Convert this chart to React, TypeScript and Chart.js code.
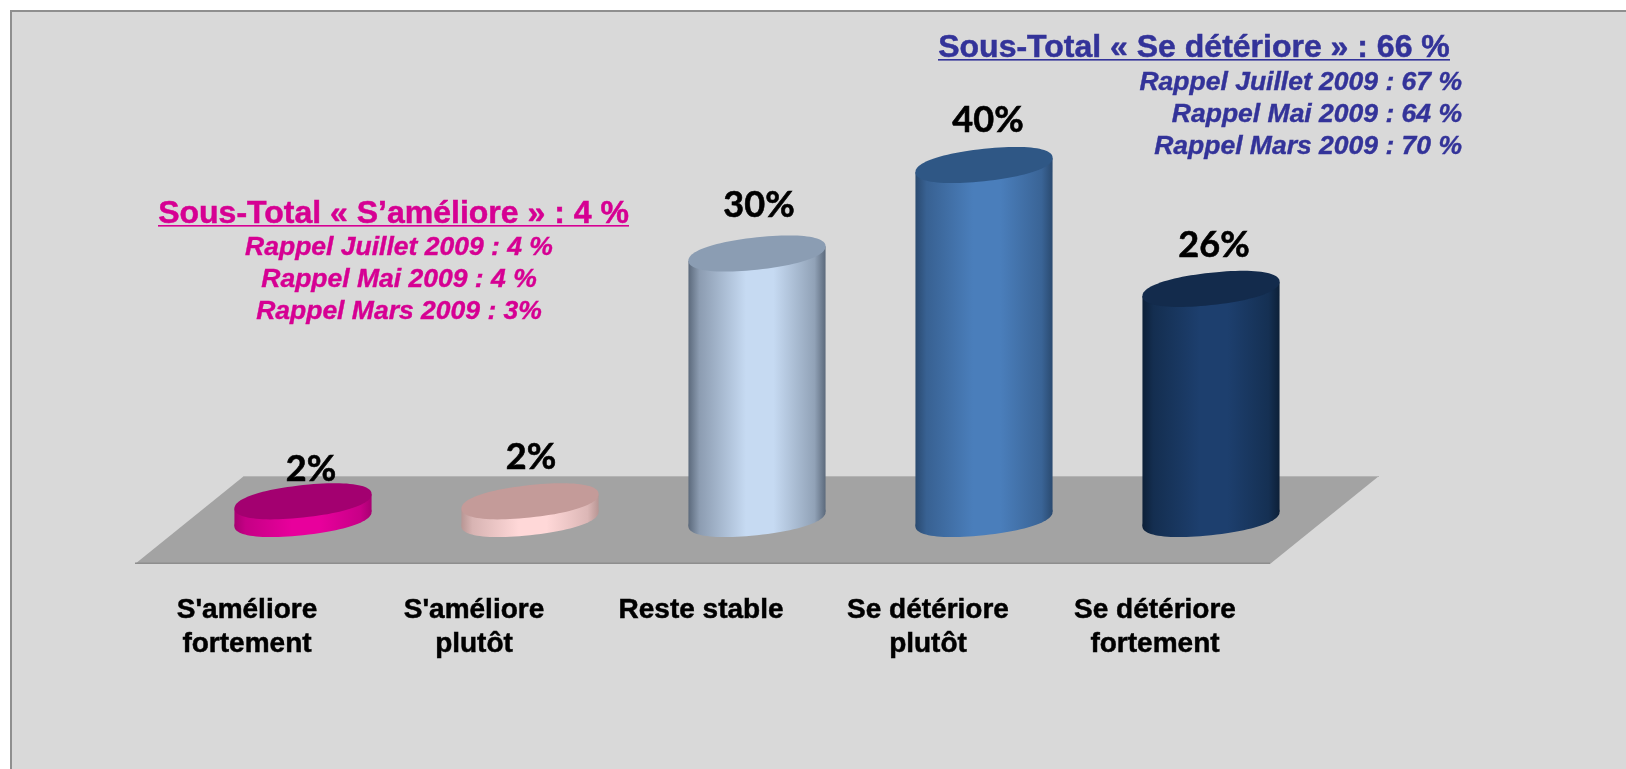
import React, { useEffect, useRef } from "react";
import { Chart, registerables } from "chart.js";

Chart.register(...registerables);

const categories = [
  ["S'améliore", "fortement"],
  ["S'améliore", "plutôt"],
  ["Reste stable"],
  ["Se détériore", "plutôt"],
  ["Se détériore", "fortement"],
];
const values = [2, 2, 30, 40, 26];
const lightColors = ["#e8009c", "#ffd8d8", "#c6daf2", "#4a7ebb", "#1d3f6e"];
const edgeColors = ["#a80072", "#b89694", "#5c6a7c", "#2a4a70", "#0d2038"];
const lidColors = ["#a30070", "#c49b99", "#8b9db3", "#2f5785", "#132b4c"];

const improveTitle = "Sous-Total « S’améliore » : 4 %";
const improveLines = ["Rappel Juillet 2009 : 4 %", "Rappel Mai 2009 : 4 %", "Rappel Mars 2009 : 3%"];
const worseTitle = "Sous-Total « Se détériore » : 66 %";
const worseLines = ["Rappel Juillet 2009 : 67 %", "Rappel Mai 2009 : 64 %", "Rappel Mars 2009 : 70 %"];

const PINK = "#d60093";
const BLUE = "#333399";
const labelShiftX = [8, 1, 2, 4, 3];
const labelGapY = [14, 26, 30, 27, 26];

function mix(a: string, b: string, t: number) {
  const p = (h: string, i: number) => parseInt(h.slice(i, i + 2), 16);
  const c = [1, 3, 5].map((i) => Math.round(p(a, i) + (p(b, i) - p(a, i)) * t));
  return `rgb(${c[0]},${c[1]},${c[2]})`;
}

const SHEAR = 0.105;
const ROUNDNESS = 2.2;

// A slightly squared, sheared ellipse: the cross-section of the tilted cylinder.
function lidPath(ctx: any, cx: number, cy: number, hw: number, rb: number) {
  ctx.beginPath();
  const steps = 96;
  for (let s = 0; s < steps; s++) {
    const t = (s / steps) * Math.PI * 2;
    const c = Math.cos(t);
    const n = Math.sin(t);
    const px = Math.sign(c) * Math.pow(Math.abs(c), 2 / ROUNDNESS) * hw;
    const py = Math.sign(n) * Math.pow(Math.abs(n), 2 / ROUNDNESS) * rb;
    const X = cx + px;
    const Y = cy + py - SHEAR * px;
    if (s === 0) ctx.moveTo(X, Y);
    else ctx.lineTo(X, Y);
  }
  ctx.closePath();
}

const scenePlugin = {
  id: "scene",
  beforeDraw(chart: any) {
    const { ctx, chartArea: a, width, height } = chart;
    ctx.save();
    ctx.fillStyle = "#ffffff";
    ctx.fillRect(0, 0, width, height);
    ctx.fillStyle = "#d9d9d9";
    ctx.fillRect(10, 10, width - 10, height - 10);
    ctx.fillStyle = "#8f8f8f";
    ctx.fillRect(10, 10, width - 10, 2);
    ctx.fillRect(10, 10, 2, height - 10);
    const dx = 54.5;
    const top = a.bottom - 43;
    const bot = a.bottom + 45;
    ctx.fillStyle = "#a3a3a3";
    ctx.beginPath();
    ctx.moveTo(a.left - dx, bot);
    ctx.lineTo(a.left + dx, top);
    ctx.lineTo(a.right + dx, top);
    ctx.lineTo(a.right - dx, bot);
    ctx.closePath();
    ctx.fill();
    ctx.fillStyle = "#8e8e8e";
    ctx.fillRect(a.left - dx, bot - 1.5, a.right - a.left, 1.5);
    ctx.fillStyle = "#b4b4b4";
    ctx.fillRect(a.left + dx, top, a.right - a.left, 1);
    ctx.restore();
  },
  beforeDatasetDraw(chart: any, args: any) {
    const { ctx } = chart;
    const meta = args.meta;
    meta.data.forEach((el: any, i: number) => {
      const { x, y, base, width } = el.getProps(["x", "y", "base", "width"], true);
      const hw = width / 2;
      const rb = width * 0.118;
      const drop = SHEAR * hw;
      const g = ctx.createLinearGradient(x - hw, 0, x + hw, 0);
      const light = lightColors[i];
      const edge = edgeColors[i];
      g.addColorStop(0, edge);
      g.addColorStop(0.08, mix(edge, light, 0.45));
      g.addColorStop(0.42, light);
      g.addColorStop(0.62, light);
      g.addColorStop(0.92, mix(edge, light, 0.5));
      g.addColorStop(1, edge);
      ctx.save();
      ctx.fillStyle = g;
      ctx.beginPath();
      ctx.moveTo(x - hw, y + drop);
      ctx.lineTo(x - hw, base + drop);
      ctx.lineTo(x + hw, base - drop);
      ctx.lineTo(x + hw, y - drop);
      ctx.closePath();
      ctx.fill();
      lidPath(ctx, x, base, hw, rb);
      ctx.fill();
      ctx.fillStyle = lidColors[i];
      lidPath(ctx, x, y, hw, rb);
      ctx.fill();
      ctx.restore();
    });
    return false;
  },
  afterDatasetsDraw(chart: any) {
    const { ctx } = chart;
    const meta = chart.getDatasetMeta(0);
    ctx.save();
    ctx.fillStyle = "#000000";
    ctx.strokeStyle = "#000000";
    ctx.lineWidth = 0.6;
    ctx.textAlign = "center";
    ctx.textBaseline = "middle";
    ctx.font = "bold 36px Lato";
    meta.data.forEach((el: any, i: number) => {
      const { x, y, width } = el.getProps(["x", "y", "width"], true);
      const ly = y - width * 0.131 - labelGapY[i];
      ctx.fillText(values[i] + "%", x + labelShiftX[i], ly);
      ctx.strokeText(values[i] + "%", x + labelShiftX[i], ly);
    });
    ctx.restore();

    const title = (text: string, left: number, right: number, base: number, color: string) => {
      ctx.save();
      ctx.font = "bold 32px 'Liberation Sans'";
      ctx.fillStyle = color;
      ctx.strokeStyle = color;
      ctx.lineWidth = 0.5;
      ctx.textAlign = "center";
      ctx.textBaseline = "alphabetic";
      ctx.fillText(text, (left + right) / 2, base);
      ctx.strokeText(text, (left + right) / 2, base);
      ctx.fillRect(left, base + 2, right - left, 1.6);
      ctx.restore();
    };
    const subs = (lines: string[], x: number, align: string, base: number, color: string) => {
      ctx.save();
      ctx.font = "italic bold 26.5px 'Liberation Sans'";
      ctx.fillStyle = color;
      ctx.strokeStyle = color;
      ctx.lineWidth = 0.4;
      ctx.textAlign = align;
      ctx.textBaseline = "alphabetic";
      lines.forEach((t, i) => {
        ctx.fillText(t, x, base + i * 32);
        ctx.strokeText(t, x, base + i * 32);
      });
      ctx.restore();
    };
    title(improveTitle, 158, 629, 223, PINK);
    subs(improveLines, 399, "center", 255, PINK);
    title(worseTitle, 938, 1450, 57, BLUE);
    subs(worseLines, 1462, "right", 90, BLUE);
  },
};

export default function App() {
  const ref = useRef<HTMLCanvasElement>(null);
  useEffect(() => {
    const chart = new Chart(ref.current as HTMLCanvasElement, {
      type: "bar",
      data: {
        labels: categories,
        datasets: [
          {
            data: values,
            backgroundColor: lightColors,
            borderWidth: 0,
            categoryPercentage: 1,
            barPercentage: 0.604,
          },
        ],
      },
      options: {
        responsive: false,
        animation: false,
        events: [],
        layout: { padding: { left: 189.5, right: 301.5, top: 76.5, bottom: 0 } },
        plugins: { legend: { display: false }, tooltip: { enabled: false }, title: { display: false } },
        scales: {
          y: { display: false, min: 0, max: 50 },
          x: {
            afterFit: (s: any) => {
              s.height = 250;
            },
            border: { display: false },
            grid: { display: false, drawTicks: false },
            ticks: {
              padding: 74,
              labelOffset: -56,
              autoSkip: false,
              maxRotation: 0,
              color: "#000000",
              textStrokeColor: "#000000",
              textStrokeWidth: 0.5,
              font: { family: "'Liberation Sans'", weight: "bold", size: 28, lineHeight: 1.214 },
            },
          },
        },
      },
      plugins: [scenePlugin],
    } as any);
    return () => chart.destroy();
  }, []);
  return (
    <div style={{ position: "fixed", left: 0, top: 0, width: 1626, height: 769 }}>
      <canvas ref={ref} width={1626} height={769} style={{ display: "block" }} />
    </div>
  );
}
